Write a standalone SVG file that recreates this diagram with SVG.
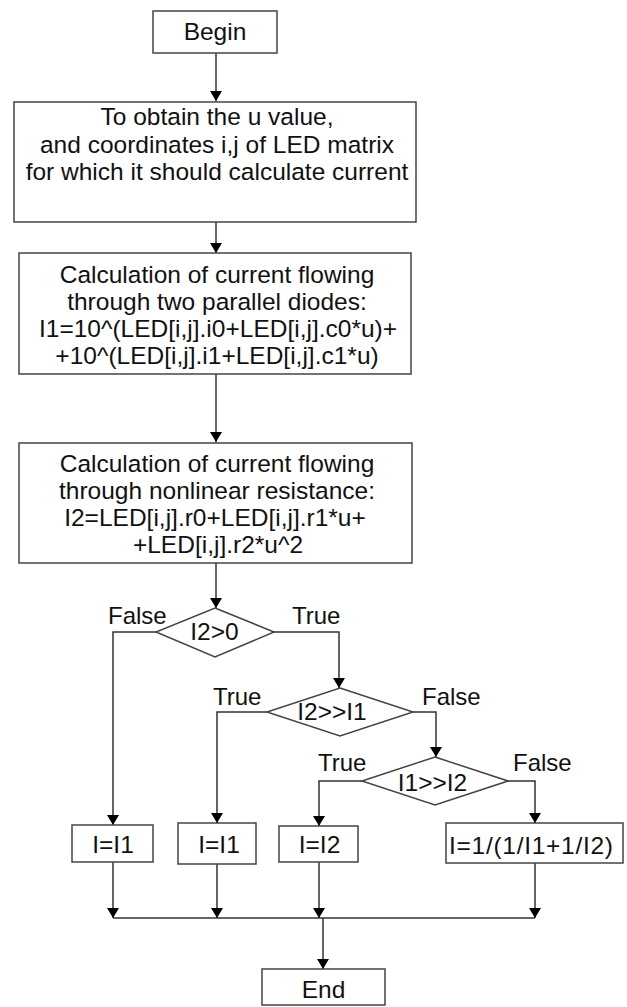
<svg xmlns="http://www.w3.org/2000/svg" width="627" height="1007" viewBox="0 0 627 1007">
<defs>
<marker id="arr" viewBox="0 0 10 12" refX="10" refY="6" markerWidth="10" markerHeight="12" markerUnits="userSpaceOnUse" orient="auto">
<path d="M0,0 L10,6 L0,12 Z" fill="#000"/>
</marker>
<style>
.box{fill:#fff;stroke:#444;stroke-width:1.5}
.t{font-family:"Liberation Sans",Arial,sans-serif;font-size:24.5px;fill:#111;text-anchor:middle}
.l{font-family:"Liberation Sans",Arial,sans-serif;font-size:24px;fill:#111}
.c{fill:none;stroke:#333;stroke-width:1.5}
.a{marker-end:url(#arr)}
</style>
</defs>
<rect width="627" height="1007" fill="#fff"/>
<g id="connectors">
<line class="c a" x1="216" y1="53" x2="216" y2="101"/>
<line class="c a" x1="216" y1="222" x2="216" y2="253"/>
<line class="c a" x1="216" y1="374" x2="216" y2="442"/>
<line class="c a" x1="216" y1="563" x2="216" y2="608"/>
<polyline class="c a" points="156,632 113,632 113,825"/>
<polyline class="c a" points="274,632 339,632 339,688"/>
<polyline class="c a" points="267,712 217,712 217,823"/>
<polyline class="c a" points="413,712 436,712 436,757"/>
<polyline class="c a" points="362,781 319,781 319,826"/>
<polyline class="c a" points="508,781 535,781 535,823"/>
<line class="c a" x1="113" y1="862" x2="113" y2="918"/>
<line class="c a" x1="217" y1="864" x2="217" y2="918"/>
<line class="c a" x1="319" y1="862" x2="319" y2="918"/>
<line class="c a" x1="535" y1="863" x2="535" y2="918"/>
<line class="c" x1="113" y1="918" x2="535" y2="918"/>
<line class="c a" x1="323" y1="918" x2="323" y2="969"/>
<text class="l" x="108" y="624">False</text>
<text class="l" x="292" y="624">True</text>
<text class="l" x="213" y="705">True</text>
<text class="l" x="422" y="705">False</text>
<text class="l" x="318" y="771">True</text>
<text class="l" x="513" y="771">False</text>
</g>
<g id="begin">
<rect class="box" x="153" y="11" width="124" height="42"/>
<text class="t" x="215" y="40">Begin</text>
</g>
<g id="obtain">
<rect class="box" x="14" y="102" width="402" height="120"/>
<text class="t" x="217" y="125">To obtain the u value,</text>
<text class="t" x="217" y="152.5">and coordinates i,j of LED matrix</text>
<text class="t" x="217" y="180">for which it should calculate current</text>
</g>
<g id="diodes">
<rect class="box" x="19" y="253" width="392" height="121"/>
<text class="t" x="217" y="283">Calculation of current flowing</text>
<text class="t" x="217" y="310">through two parallel diodes:</text>
<text class="t" x="218" y="337">I1=10^(LED[i,j].i0+LED[i,j].c0*u)+</text>
<text class="t" x="217" y="364">+10^(LED[i,j].i1+LED[i,j].c1*u)</text>
</g>
<g id="resistance">
<rect class="box" x="19" y="443" width="393" height="120"/>
<text class="t" x="217" y="472">Calculation of current flowing</text>
<text class="t" x="217" y="499">through nonlinear resistance:</text>
<text class="t" x="215" y="526">I2=LED[i,j].r0+LED[i,j].r1*u+</text>
<text class="t" x="218" y="553">+LED[i,j].r2*u^2</text>
</g>
<g id="d1">
<polygon class="box" points="215,608 274,632 215,657 156,632"/>
<text class="t" x="214.5" y="640">I2&gt;0</text>
</g>
<g id="d2">
<polygon class="box" points="340,688 413,712 340,736 267,712"/>
<text class="t" x="332" y="720">I2&gt;&gt;I1</text>
</g>
<g id="d3">
<polygon class="box" points="435,757 508,781 435,805 362,781"/>
<text class="t" x="432.5" y="791">I1&gt;&gt;I2</text>
</g>
<g id="r1">
<rect class="box" x="72" y="825" width="81" height="37"/>
<text class="t" x="113" y="853">I=I1</text>
</g>
<g id="r2">
<rect class="box" x="178" y="823" width="78" height="41"/>
<text class="t" x="219" y="853">I=I1</text>
</g>
<g id="r3">
<rect class="box" x="279" y="826" width="79" height="36"/>
<text class="t" x="319.5" y="853">I=I2</text>
</g>
<g id="r4">
<rect class="box" x="446" y="823" width="177" height="40"/>
<text class="t" x="531" y="854" textLength="164" lengthAdjust="spacing">I=1/(1/I1+1/I2)</text>
</g>
<g id="end">
<rect class="box" x="262" y="969" width="123" height="36"/>
<text class="t" x="323.5" y="998">End</text>
</g>
</svg>
